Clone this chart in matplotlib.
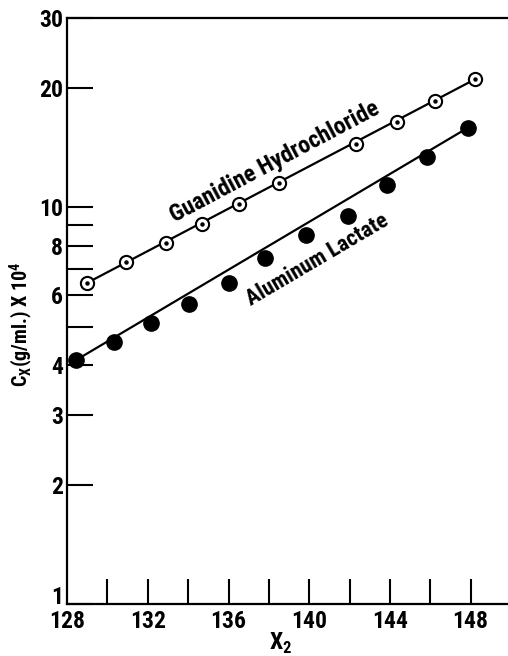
import matplotlib
matplotlib.use('Agg')
import matplotlib.pyplot as plt
import matplotlib.transforms as mtransforms
from matplotlib.ticker import FixedLocator, NullFormatter
from matplotlib import font_manager

# data
gu_x = [129.0, 130.9, 132.9, 134.7, 136.5, 138.5, 142.3, 144.35, 146.25, 148.2]
gu_y = [6.45, 7.28, 8.13, 9.08, 10.2, 11.5, 14.4, 16.4, 18.5, 21.0]
al_x = [128.45, 130.35, 132.15, 134.05, 136.0, 137.8, 139.85, 141.9, 143.85, 145.85, 147.85]
al_y = [4.12, 4.58, 5.11, 5.71, 6.45, 7.45, 8.5, 9.5, 11.4, 13.4, 15.85]
# straight lines drawn through the series
gu_fit_x = [129.0, 148.2]
gu_fit_y = [6.45, 21.0]
al_fit_x = [128.45, 147.85]
al_fit_y = [4.12, 15.85]

y_ticks = [1, 2, 3, 4, 5, 6, 7, 8, 9, 10, 20, 30]
y_labels = ['1', '2', '3', '4', '', '6', '', '8', '', '10', '20', '30']
x_ticks = [128, 130, 132, 134, 136, 138, 140, 142, 144, 146, 148]
x_labels = ['128', '', '132', '', '136', '', '140', '', '144', '', '148']

names = set(f.name for f in font_manager.fontManager.ttflist)
fam = [n for n in ['Roboto Condensed', 'Roboto'] if n in names] + ['DejaVu Sans']
plt.rcParams['font.family'] = fam
plt.rcParams['font.weight'] = 'bold'
plt.rcParams['mathtext.fontset'] = 'custom'
plt.rcParams['mathtext.rm'] = fam[0] + ':bold'
plt.rcParams['mathtext.bf'] = fam[0] + ':bold'

fig = plt.figure(figsize=(5.08, 6.56), dpi=100)
ax = fig.add_axes([0.132, 0.0793, 0.868, 0.8933])

ax.plot(gu_fit_x, gu_fit_y, color='black', lw=1.6, zorder=2)
ax.plot(al_fit_x, al_fit_y, color='black', lw=1.6, zorder=2)
ax.plot(gu_x, gu_y, 'o', ms=9.5, mfc='white', mec='black', mew=1.5, zorder=3)
ax.plot(gu_x, gu_y, 'o', ms=2.2, color='black', zorder=4)
ax.plot(al_x, al_y, 'o', ms=11, color='black', zorder=3)

ax.set_yscale('log')
ax.set_xlim(128, 149.85)
ax.set_ylim(1, 30)

ax.yaxis.set_major_locator(FixedLocator(y_ticks))
ax.yaxis.set_minor_formatter(NullFormatter())
ax.yaxis.set_minor_locator(FixedLocator([]))
ax.set_yticklabels(y_labels)
ax.set_xticks(x_ticks)
ax.set_xticklabels(x_labels)

ax.tick_params(axis='y', direction='in', length=19, width=1.5, pad=3, labelsize=17)
ax.tick_params(axis='x', direction='in', length=18, width=1.5, pad=4, labelsize=17)
for t in ax.get_xticklines()[:2]:
    t.set_visible(False)
# lift the "1" so it clears "128"
lab1 = ax.get_yticklabels()[0]
lab1.set_transform(lab1.get_transform() +
                   mtransforms.ScaledTranslation(0, 9 / 100, fig.dpi_scale_trans))

ax.spines['right'].set_visible(False)
for s in ['left', 'bottom', 'top']:
    ax.spines[s].set_linewidth(1.6)

ax.text(138.3, 13.0, 'Guanidine Hydrochloride', rotation=28, ha='center', va='center',
        fontsize=17, fontweight='bold')
ax.text(140.4, 7.35, 'Aluminum Lactate', rotation=30.5, ha='center', va='center',
        fontsize=16, fontweight='bold')

fig.text(0.043, 0.505, r'C$_\mathrm{X}$(g/ml.) X 10$^\mathrm{4}$', rotation=90,
         ha='center', va='center', fontsize=14.5, fontweight='bold')
fig.text(0.553, 0.009, r'X$_\mathrm{2}$', ha='center', va='baseline', fontsize=17,
         fontweight='bold')

fig.savefig('out.png', dpi=100)
